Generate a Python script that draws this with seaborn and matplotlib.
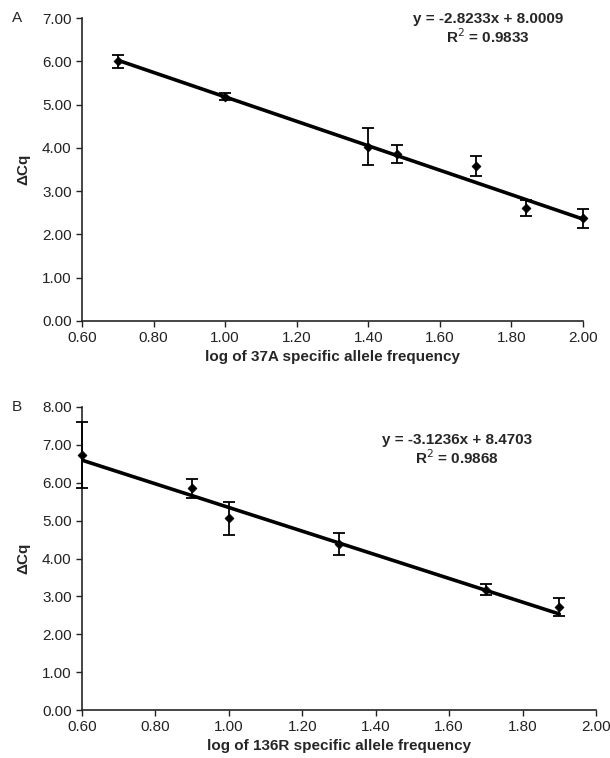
import matplotlib
matplotlib.use("Agg")
import matplotlib.pyplot as plt
import numpy as np
import pandas as pd
import seaborn as sns

# Panel A: 37A
a_x = [0.70, 1.00, 1.40, 1.48, 1.70, 1.84, 2.00]
a_y = [6.00, 5.18, 4.03, 3.86, 3.59, 2.61, 2.37]
a_err = [0.15, 0.08, 0.42, 0.20, 0.23, 0.19, 0.22]
a_slope, a_icpt, a_r2 = -2.8233, 8.0009, 0.9833

# Panel B: 136R
b_x = [0.60, 0.90, 1.00, 1.30, 1.70, 1.90]
b_y = [6.73, 5.85, 5.06, 4.38, 3.18, 2.72]
b_err = [0.88, 0.26, 0.44, 0.29, 0.15, 0.23]
b_slope, b_icpt, b_r2 = -3.1236, 8.4703, 0.9868

sns.set_style("ticks")
plt.rcParams["font.family"] = ["Liberation Sans", "DejaVu Sans"]

fig = plt.figure(figsize=(6.1, 7.58), dpi=100)
W, H = 610, 758


def add_ax(left, right, top, bottom):
    return fig.add_axes([left / W, 1 - bottom / H, (right - left) / W, (bottom - top) / H])


def draw_panel(ax, xs, ys, errs, slope, icpt, r2, ymax, xlabel, eq_pos):
    df = pd.DataFrame({"x": xs, "y": ys})
    fit = pd.DataFrame({"x": [min(xs), max(xs)]})
    fit["y"] = slope * fit["x"] + icpt
    sns.lineplot(data=fit, x="x", y="y", ax=ax, color="black", lw=2.6, zorder=3)
    ax.errorbar(xs, ys, yerr=errs, fmt="none", ecolor="black", elinewidth=1.3,
                capsize=4, capthick=1.3, zorder=4, clip_on=False)
    sns.scatterplot(data=df, x="x", y="y", ax=ax, marker="D", s=22, color="black",
                    edgecolor="black", zorder=5, clip_on=False)
    ax.set_xlim(0.6, 2.0)
    ax.set_ylim(0, ymax)
    ax.set_xticks(np.arange(0.6, 2.01, 0.2))
    ax.set_yticks(np.arange(0, ymax + 0.01, 1.0))
    ax.xaxis.set_major_formatter(matplotlib.ticker.FormatStrFormatter("%.2f"))
    ax.yaxis.set_major_formatter(matplotlib.ticker.FormatStrFormatter("%.2f"))
    ax.tick_params(labelsize=11, length=4, width=1, direction="out", colors="#222222")
    sns.despine(ax=ax)
    for s in ("left", "bottom"):
        ax.spines[s].set_linewidth(1.2)
    ax.set_xlabel(xlabel, fontsize=11, fontweight="bold", labelpad=3)
    ax.set_ylabel("ΔCq", fontsize=11, fontweight="bold", labelpad=8)
    sign = "+" if icpt >= 0 else "-"
    ax.text(eq_pos[0], eq_pos[1],
            f"y = {slope:.4f}x {sign} {abs(icpt):.4f}\nR$^2$ = {r2:.4f}",
            transform=ax.transAxes, fontsize=11, fontweight="bold",
            ha="center", va="top", linespacing=1.1)


ax_a = add_ax(82, 583, 18, 321)
draw_panel(ax_a, a_x, a_y, a_err, a_slope, a_icpt, a_r2, 7.0,
           "log of 37A specific allele frequency", (0.81, 1.02))
fig.text(12 / W, 1 - 18 / H, "A", fontsize=11, va="center", ha="left")

ax_b = add_ax(82, 596, 407, 710)
draw_panel(ax_b, b_x, b_y, b_err, b_slope, b_icpt, b_r2, 8.0,
           "log of 136R specific allele frequency", (0.73, 0.915))
fig.text(12 / W, 1 - 407 / H, "B", fontsize=11, va="center", ha="left")

fig.savefig("out.png", dpi=100)
